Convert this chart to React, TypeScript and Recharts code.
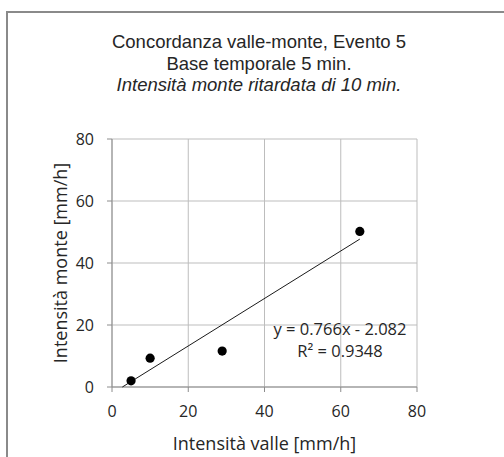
import React from 'react';
import { ScatterChart, Scatter, XAxis, YAxis, CartesianGrid } from 'recharts';

// Observed intensities (valle vs monte, monte shifted by 10 min)
const valle = [5, 10, 28.9, 65];
const monte = [2.0, 9.3, 11.6, 50.2];

// Linear fit reported on the chart
const slope = 0.766;
const intercept = -2.082;
const rSquared = 0.9348;

const xTicks = [0, 20, 40, 60, 80];
const yTicks = [0, 20, 40, 60, 80];

const titleLines = [
  'Concordanza valle-monte,  Evento 5',
  'Base temporale 5 min.',
  'Intensità monte ritardata di 10 min.',
];

const points = valle.map((x, i) => ({ x, y: monte[i] }));

// Trendline runs from where it crosses y = 0 up to the largest observed x
const trendStart = -intercept / slope;
const trendEnd = Math.max(...valle);
const trend = [trendStart, trendEnd].map((x) => ({ x, y: slope * x + intercept }));

const FONT = '"Open Sans", "Noto Sans", sans-serif';
const TITLE_FONT = '"Liberation Sans", Arial, sans-serif';
const TEXT = '#262626';

const Dot = (props: any) => {
  const { cx, cy } = props;
  return <circle cx={cx} cy={cy} r={4.6} fill="#000" />;
};

const NoDot = () => <g />;

const YTitle = (props: any) => {
  const vb = props.viewBox || {};
  const cy = vb.y + vb.height / 2;
  return (
    <text
      x={60}
      y={cy}
      transform={`rotate(-90, 60, ${cy})`}
      textAnchor="middle"
      dominantBaseline="central"
      fontFamily={FONT}
      fontSize={18}
      fill={TEXT}
    >
      Intensità monte [mm/h]
    </text>
  );
};

const XTitle = (props: any) => {
  const vb = props.viewBox || {};
  const cx = vb.x + vb.width / 2;
  return (
    <text
      x={cx}
      y={443}
      textAnchor="middle"
      dominantBaseline="central"
      fontFamily={FONT}
      fontSize={18}
      fill={TEXT}
    >
      Intensità valle [mm/h]
    </text>
  );
};

export default function App() {
  return (
    <div style={{ position: 'absolute', left: 0, top: 0, width: 504, height: 457, background: '#fff', overflow: 'hidden' }}>
      <div
        style={{
          position: 'absolute',
          left: 6,
          top: 11,
          width: 600,
          height: 600,
          borderLeft: '2px solid #8a8a8a',
          borderTop: '2px solid #8a8a8a',
        }}
      />
      <div
        style={{
          position: 'absolute',
          left: 0,
          top: 31,
          width: 518,
          textAlign: 'center',
          fontFamily: TITLE_FONT,
          fontSize: 18.5,
          lineHeight: '21.5px',
          color: TEXT,
        }}
      >
        <div>{titleLines[0]}</div>
        <div>{titleLines[1]}</div>
        <div style={{ fontStyle: 'italic' }}>{titleLines[2]}</div>
      </div>
      <div style={{ position: 'absolute', left: 0, top: 0 }}>
        <ScatterChart width={504} height={457} margin={{ top: 139, right: 87, bottom: 0, left: 0 }}>
          <CartesianGrid stroke="#bdbdbd" strokeWidth={1} />
          <XAxis
            type="number"
            dataKey="x"
            domain={[0, 80]}
            ticks={xTicks}
            height={70}
            axisLine={{ stroke: '#8c8c8c' }}
            tickLine={{ stroke: '#8c8c8c' }}
            tickSize={5}
            tickMargin={14}
            tick={{ fontFamily: FONT, fontSize: 16, fill: TEXT }}
            label={<XTitle />}
          />
          <YAxis
            type="number"
            dataKey="y"
            domain={[0, 80]}
            ticks={yTicks}
            width={112}
            axisLine={{ stroke: '#8c8c8c' }}
            tickLine={{ stroke: '#8c8c8c' }}
            tickSize={5}
            tickMargin={13}
            tick={{ fontFamily: FONT, fontSize: 16, fill: TEXT }}
            label={<YTitle />}
          />
          <Scatter
            data={trend}
            line={{ stroke: '#1a1a1a', strokeWidth: 1 }}
            shape={<NoDot />}
            isAnimationActive={false}
          />
          <Scatter data={points} shape={<Dot />} isAnimationActive={false} />
        </ScatterChart>
      </div>
      <div
        style={{
          position: 'absolute',
          left: 250,
          top: 318,
          width: 180,
          textAlign: 'center',
          fontFamily: FONT,
          fontSize: 16.5,
          lineHeight: '22px',
          color: TEXT,
        }}
      >
        <div>{`y = ${slope}x - ${Math.abs(intercept).toFixed(3)}`}</div>
        <div>{`R² = ${rSquared}`}</div>
      </div>
    </div>
  );
}
